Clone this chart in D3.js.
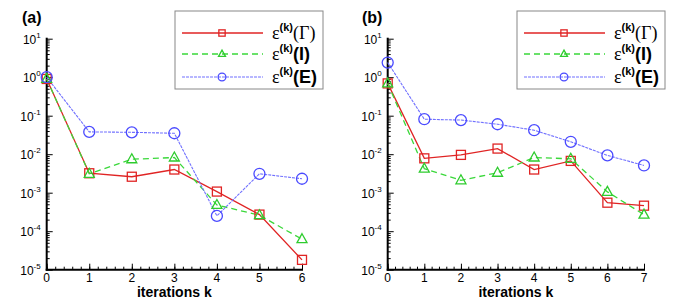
<!DOCTYPE html>
<html>
<head>
<meta charset="utf-8">
<script src="https://d3js.org/d3.v7.min.js"></script>
<style>
  body { margin: 0; background: #fff; }
  text { font-family: "Liberation Sans", Arial, sans-serif; }
</style>
</head>
<body>
<div id="chart"></div>
<script>
// valores
const iterA = [0, 1, 2, 3, 4, 5, 6];
const gammaA = [0.9, 3.2e-3, 2.6e-3, 4.0e-3, 1.07e-3, 2.7e-4, 1.8e-5];
const interA = [0.9, 3.1e-3, 7.4e-3, 8.2e-3, 4.8e-4, 2.6e-4, 6.2e-5];
const extA = [1.0, 3.8e-2, 3.7e-2, 3.5e-2, 2.5e-4, 3.1e-3, 2.3e-3];

const iterB = [0, 1, 2, 3, 4, 5, 6, 7];
const gammaB = [0.69, 7.8e-3, 9.6e-3, 1.4e-2, 4.0e-3, 6.7e-3, 5.5e-4, 4.6e-4];
const interB = [0.69, 4.2e-3, 2.1e-3, 3.3e-3, 8.2e-3, 7.6e-3, 1.05e-3, 2.7e-4];
const extB = [2.4, 8.1e-2, 7.7e-2, 6.0e-2, 4.2e-2, 2.1e-2, 9.3e-3, 5.1e-3];

const yExponents = [1, 0, -1, -2, -3, -4, -5];
const seriesNames = ["\u0393", "I", "E"];

const W = 687, H = 304;
const svg = d3.select("#chart").append("svg")
  .attr("width", W).attr("height", H);

const styles = [
  { color: "#e02424", line: "#e02424", width: 1.3, dash: null, marker: "square" },
  { color: "#2ecc2e", line: "#3ad83a", width: 1.3, dash: "6,4", marker: "triangle" },
  { color: "#4a4aff", line: "#7070ff", width: 1.1, dash: "3,1", marker: "circle" }
];

// s = escala del marcador (1 en el grafico, menor en la leyenda)
function drawMarker(g, type, x, y, color, s = 1) {
  if (type === "square") {
    g.append("rect").attr("x", x - 4.5 * s).attr("y", y - 4.5 * s)
      .attr("width", 9 * s).attr("height", 9 * s)
      .attr("fill", "none").attr("stroke", color).attr("stroke-width", 1.3);
  } else if (type === "triangle") {
    g.append("path")
      .attr("d", `M${x},${y - 5.5 * s}L${x + 5 * s},${y + 3.5 * s}L${x - 5 * s},${y + 3.5 * s}Z`)
      .attr("fill", "none").attr("stroke", color).attr("stroke-width", 1.3);
  } else {
    g.append("circle").attr("cx", x).attr("cy", y).attr("r", 5.5 * s)
      .attr("fill", "none").attr("stroke", color).attr("stroke-width", 1.3);
  }
}

function panel(opts) {
  const g = svg.append("g");
  const x = d3.scaleLinear().domain([0, opts.iters[opts.iters.length - 1]])
    .range([opts.left, opts.right]);
  const y = d3.scaleLog().domain([1e-5, 10]).range([269.7, 38.7]);

  // eje x: ticks hacia adentro
  const xMinor = d3.range(0, x.domain()[1] + 1e-9, 0.2);
  g.append("g").attr("transform", `translate(0,${y.range()[0]})`)
    .call(d3.axisBottom(x).tickValues(xMinor).tickSize(-3).tickFormat(""))
    .call(a => a.select(".domain").remove());
  g.append("g").attr("transform", `translate(0,${y.range()[0]})`)
    .call(d3.axisBottom(x).tickValues(opts.iters).tickSize(-6).tickFormat(""))
    .call(a => a.select(".domain").remove());

  // eje y logaritmico
  const yMinor = [];
  for (let e = -5; e < 1; e++) for (let m = 2; m <= 9; m++) yMinor.push(m * Math.pow(10, e));
  g.append("g").attr("transform", `translate(${opts.left},0)`)
    .call(d3.axisLeft(y).tickValues(yMinor).tickSize(-3).tickFormat(""))
    .call(a => a.select(".domain").remove());
  g.append("g").attr("transform", `translate(${opts.left},0)`)
    .call(d3.axisLeft(y).tickValues(yExponents.map(e => Math.pow(10, e))).tickSize(-6).tickFormat(""))
    .call(a => a.select(".domain").remove());

  g.selectAll(".tick line").attr("stroke", "#000").attr("stroke-width", 1);

  // lineas de ejes
  g.append("line").attr("x1", opts.left).attr("x2", opts.left)
    .attr("y1", y.range()[1] - 1).attr("y2", y.range()[0] + 1)
    .attr("stroke", "#000").attr("stroke-width", 2);
  g.append("line").attr("x1", opts.left - 1).attr("x2", opts.right + 1)
    .attr("y1", y.range()[0]).attr("y2", y.range()[0])
    .attr("stroke", "#000").attr("stroke-width", 2);

  // etiquetas y
  yExponents.forEach(e => {
    const t = g.append("text").attr("x", opts.left - 6).attr("y", y(Math.pow(10, e)) + 5)
      .attr("text-anchor", "end").attr("font-size", 12).attr("fill", "#000");
    t.append("tspan").text("10");
    t.append("tspan").attr("dy", -6).attr("font-size", 8).text(e);
  });

  // etiquetas x
  opts.iters.forEach(k => {
    g.append("text").attr("x", x(k)).attr("y", 281.5)
      .attr("text-anchor", "middle").attr("font-size", 12).text(k);
  });
  g.append("text").attr("x", (opts.left + opts.right) / 2).attr("y", 297)
    .attr("text-anchor", "middle").attr("font-size", 14).attr("font-weight", "bold")
    .text("iterations k");

  g.append("text").attr("x", opts.labelX).attr("y", 23)
    .attr("font-size", 16).attr("font-weight", "bold").text(opts.label);

  // series
  const line = d3.line().x((d, i) => x(opts.iters[i])).y(d => y(d));
  opts.series.forEach((vals, s) => {
    const st = styles[s];
    g.append("path").datum(vals).attr("d", line)
      .attr("fill", "none").attr("stroke", st.line).attr("stroke-width", st.width)
      .attr("stroke-dasharray", st.dash);
  });
  opts.series.forEach((vals, s) => {
    vals.forEach((v, i) => drawMarker(g, styles[s].marker, x(opts.iters[i]), y(v), styles[s].color));
  });

  // leyenda
  const lg = g.append("g").attr("transform", `translate(${opts.legendX},11)`);
  lg.append("rect").attr("width", 148).attr("height", 78)
    .attr("fill", "#fff").attr("stroke", "#888").attr("stroke-width", 1);
  seriesNames.forEach((name, s) => {
    const st = styles[s];
    const ly = [22, 43, 66][s];
    lg.append("line").attr("x1", 7).attr("x2", 88).attr("y1", ly).attr("y2", ly)
      .attr("stroke", st.line).attr("stroke-width", st.width).attr("stroke-dasharray", st.dash);
    drawMarker(lg, st.marker, 47, ly, st.color, 0.7);
    const t = lg.append("text").attr("x", 97).attr("y", ly + 6).attr("font-size", 18);
    t.append("tspan").attr("font-family", "Liberation Serif").text("\u03b5");
    t.append("tspan").attr("dy", -8).attr("font-size", 11).attr("font-weight", "bold").text("(k)");
    if (s === 0) {
      t.append("tspan").attr("dy", 8).attr("font-family", "Liberation Serif").text("(\u0393)");
    } else {
      t.append("tspan").attr("dy", 8).attr("font-weight", "bold").text(`(${name})`);
    }
  });
}

panel({ left: 46.7, right: 302, iters: iterA, series: [gammaA, interA, extA],
  label: "(a)", labelX: 22, legendX: 175 });
panel({ left: 387.7, right: 644, iters: iterB, series: [gammaB, interB, extB],
  label: "(b)", labelX: 362, legendX: 517 });
</script>
</body>
</html>
